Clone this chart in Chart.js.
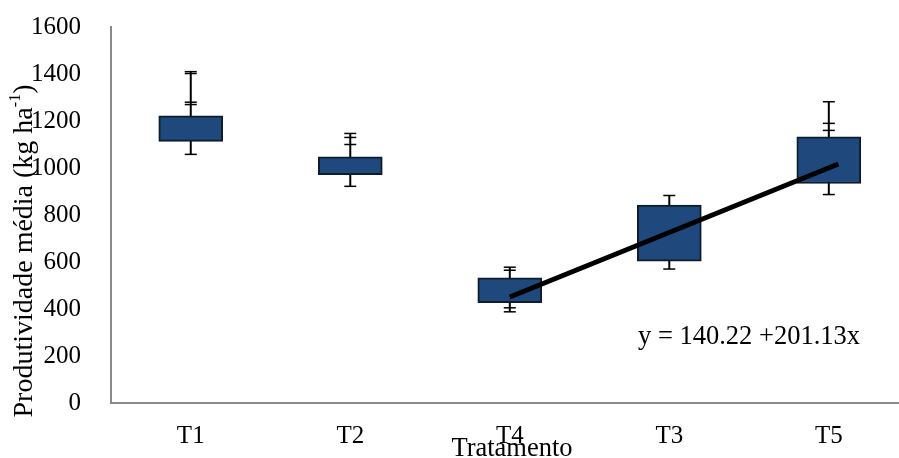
<!DOCTYPE html>
<html>
<head>
<meta charset="utf-8">
<script src="https://cdn.jsdelivr.net/npm/chart.js@4/dist/chart.umd.min.js"></script>
<style>
  html, body { margin: 0; padding: 0; background: #fff; }
  #wrap { width: 899px; height: 458px; }
</style>
</head>
<body>
<div id="wrap"><canvas id="boxChart"></canvas></div>
<script>
const categories = ["T1", "T2", "T4", "T3", "T5"];
const boxLow = [1113, 972, 427, 604, 934];
const boxHigh = [1222, 1048, 533, 842, 1133];
const whiskerLow = [1058, 922, 388, 570, 887];
const whiskerHigh = [1410, 1147, 578, 883, 1282];
const extraCaps = [[1402, 1280, 1270], [1130, 1100], [565, 405], [], [1190, 1160]];
const trendX = [2, 4.06];
const trendY = [451, 1017];
const yTicks = [0, 200, 400, 600, 800, 1000, 1200, 1400, 1600];

const FONT = "'Liberation Serif', 'Times New Roman', serif";
const FS = 25;
const FT = 28;

const whiskerPlugin = {
    id: "whiskers",
    beforeDatasetsDraw(chart) {
        const { ctx, scales: { x, y } } = chart;
        ctx.save();
        ctx.strokeStyle = "#000";
        categories.forEach((c, i) => {
            const px = x.getPixelForValue(i);
            ctx.lineWidth = 2;
            ctx.beginPath();
            ctx.moveTo(px, y.getPixelForValue(whiskerLow[i]));
            ctx.lineTo(px, y.getPixelForValue(whiskerHigh[i]));
            ctx.stroke();
            ctx.lineWidth = 1.5;
            [whiskerLow[i], whiskerHigh[i], ...extraCaps[i]].forEach((v) => {
                const py = y.getPixelForValue(v);
                ctx.beginPath();
                ctx.moveTo(px - 6, py);
                ctx.lineTo(px + 6, py);
                ctx.stroke();
            });
        });
        ctx.restore();
    },
    afterDraw(chart) {
        const { ctx, scales: { x, y } } = chart;
        ctx.save();
        ctx.fillStyle = "#000";
        ctx.textAlign = "center";
        ctx.textBaseline = "middle";
        // equation
        ctx.font = "26.5px " + FONT;
        ctx.fillText("y = 140.22 +201.13x", x.getPixelForValue(3.5), y.getPixelForValue(280));
        // x axis title
        ctx.font = "26.5px " + FONT;
        ctx.fillText("Tratamento", 512, 449);
        // y axis title with superscript
        ctx.translate(25, 251);
        ctx.rotate(-Math.PI / 2);
        const main = "Produtividade média (kg ha";
        const sup = "-1";
        const end = ")";
        ctx.font = FT + "px " + FONT;
        const w1 = ctx.measureText(main).width;
        const w3 = ctx.measureText(end).width;
        ctx.font = "16px " + FONT;
        const w2 = ctx.measureText(sup).width;
        let sx = -(w1 + w2 + w3) / 2;
        ctx.textAlign = "left";
        ctx.font = FT + "px " + FONT;
        ctx.fillText(main, sx, 0);
        ctx.font = "16px " + FONT;
        ctx.fillText(sup, sx + w1, -9);
        ctx.font = FT + "px " + FONT;
        ctx.fillText(end, sx + w1 + w2, 0);
        ctx.restore();
    },
};

new Chart(document.getElementById("boxChart"), {
    type: "bar",
    data: {
        datasets: [
            {
                type: "bar",
                data: categories.map((c, i) => ({ x: i, y: [boxLow[i], boxHigh[i]] })),
                backgroundColor: "#1F497D",
                borderColor: "#0f1c2c",
                borderWidth: 2,
                borderSkipped: false,
                barThickness: 64,
                order: 2,
            },
            {
                type: "line",
                data: trendX.map((v, i) => ({ x: v, y: trendY[i] })),
                borderColor: "#000",
                borderWidth: 5,
                pointRadius: 0,
                fill: false,
                order: 1,
            },
        ],
    },
    options: {
        responsive: true,
        maintainAspectRatio: false,
        animation: false,
        layout: { padding: { top: 27, right: 0, left: 0, bottom: 0 } },
        plugins: {
            legend: { display: false },
            tooltip: { enabled: false },
        },
        scales: {
            x: {
                type: "linear",
                offset: false,
                min: -0.5,
                max: 4.44,
                grid: { display: false },
                border: { display: true, color: "#8a8a8a", width: 2 },
                afterBuildTicks: (axis) => {
                    axis.ticks = categories.map((c, i) => ({ value: i }));
                },
                afterFit: (axis) => { axis.height = 55; },
                ticks: {
                    color: "#000",
                    font: { family: FONT, size: FS },
                    padding: 10,
                    maxRotation: 0,
                    callback: (v) => categories[v],
                },
            },
            y: {
                min: 0,
                max: 1600,
                grid: { display: false },
                border: { display: true, color: "#8a8a8a", width: 2 },
                afterBuildTicks: (axis) => {
                    axis.ticks = yTicks.map((v) => ({ value: v }));
                },
                afterFit: (axis) => {
                    axis.width = 111;
                    axis.paddingTop = 10;
                    axis.paddingBottom = 0;
                },
                ticks: {
                    color: "#000",
                    font: { family: FONT, size: FS },
                    padding: 22,
                    callback: (v) => String(v),
                },
            },
        },
    },
    plugins: [whiskerPlugin],
});
</script>
</body>
</html>
